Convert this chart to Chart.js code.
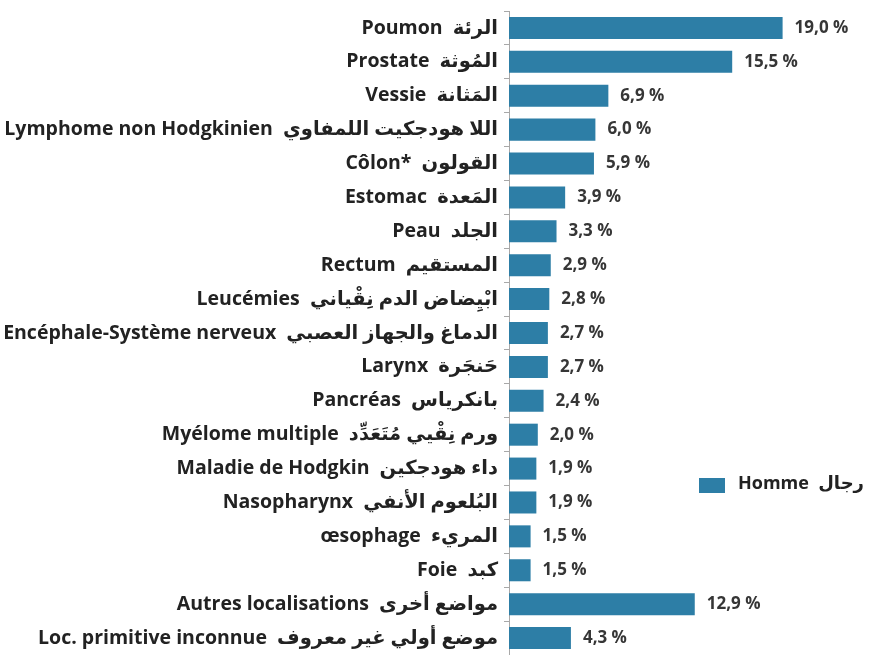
<!DOCTYPE html>
<html>
<head>
<meta charset="utf-8">
<script src="https://cdn.jsdelivr.net/npm/chart.js@4.4.1/dist/chart.umd.min.js"></script>
<style>
  html, body { margin: 0; padding: 0; background: #fff; }
</style>
</head>
<body>
<canvas id="cancerChart" width="883" height="655"></canvas>
<script>
const sitesFr = [
    'Poumon', 'Prostate', 'Vessie', 'Lymphome non Hodgkinien', 'Côlon*',
    'Estomac', 'Peau', 'Rectum', 'Leucémies', 'Encéphale-Système nerveux',
    'Larynx', 'Pancréas', 'Myélome multiple', 'Maladie de Hodgkin', 'Nasopharynx',
    'œsophage', 'Foie', 'Autres localisations', 'Loc. primitive inconnue'
];
const sitesAr = [
    'الرئة', 'المُوثة', 'المَثانة', 'اللا هودجكيت اللمفاوي', 'القولون',
    'المَعدة', 'الجلد', 'المستقيم', 'ابْيِضاض الدم نِقْياني', 'الدماغ والجهاز العصبي',
    'حَنجَرة', 'بانكرياس', 'ورم نِقْيي مُتَعَدِّد', 'داء هودجكين', 'البُلعوم الأنفي',
    'المريء', 'كبد', 'مواضع أخرى', 'موضع أولي غير معروف'
];
const hommeValues = [19.0, 15.5, 6.9, 6.0, 5.9, 3.9, 3.3, 2.9, 2.8, 2.7, 2.7, 2.4, 2.0, 1.9, 1.9, 1.5, 1.5, 12.9, 4.3];
const seriesLabel = 'Homme  رجال';

const barColor = '#2d7ea6';
const textColor = '#222';
const fontFamily = "'Open Sans', 'DejaVu Sans', sans-serif";

const labels = sitesFr.map((fr, i) => fr + '  ' + sitesAr[i]);

// percentage text at the end of each bar
const valueLabels = {
    id: 'valueLabels',
    afterDatasetsDraw(chart) {
        const ctx = chart.ctx;
        const meta = chart.getDatasetMeta(0);
        ctx.save();
        ctx.font = 'bold 17px ' + fontFamily;
        ctx.fillStyle = '#363636';
        ctx.textAlign = 'left';
        ctx.textBaseline = 'middle';
        meta.data.forEach((bar, i) => {
            const txt = hommeValues[i].toFixed(1).replace('.', ',') + ' %';
            ctx.fillText(txt, bar.x + 12, bar.y);
        });
        ctx.restore();
    }
};

// legend placed to the right, beside the lower bars
const sideLegend = {
    id: 'sideLegend',
    afterDraw(chart) {
        const ctx = chart.ctx;
        const ds = chart.data.datasets[0];
        const x = chart.chartArea.left + 190;
        const y = 485;
        ctx.save();
        ctx.fillStyle = ds.backgroundColor;
        ctx.fillRect(x, y - 7, 26, 15);
        ctx.font = 'bold 18px ' + fontFamily;
        ctx.fillStyle = textColor;
        ctx.textAlign = 'left';
        ctx.textBaseline = 'middle';
        ctx.fillText(ds.label, x + 39, y - 1);
        ctx.restore();
    }
};

const ctx = document.getElementById('cancerChart').getContext('2d');
new Chart(ctx, {
    type: 'bar',
    data: {
        labels: labels,
        datasets: [{
            label: seriesLabel,
            data: hommeValues,
            backgroundColor: barColor,
            borderWidth: 0,
            barPercentage: 0.65,
            categoryPercentage: 1
        }]
    },
    options: {
        indexAxis: 'y',
        responsive: false,
        animation: false,
        layout: { padding: { top: 11, right: 14, bottom: -2, left: 0 } },
        plugins: {
            legend: { display: false },
            tooltip: { enabled: false }
        },
        scales: {
            x: {
                display: false,
                min: 0,
                max: 25
            },
            y: {
                afterFit: s => {
                    s.width = 509;
                    s.paddingTop = 0;
                    s.paddingBottom = 0;
                },
                border: { display: true, color: '#a8a8a8', width: 1 },
                grid: {
                    drawOnChartArea: false,
                    drawTicks: true,
                    tickLength: 5,
                    color: '#a8a8a8'
                },
                ticks: {
                    padding: 6,
                    color: textColor,
                    font: { family: fontFamily, size: 19.5, weight: 'bold' }
                }
            }
        }
    },
    plugins: [valueLabels, sideLegend]
});
</script>
</body>
</html>
